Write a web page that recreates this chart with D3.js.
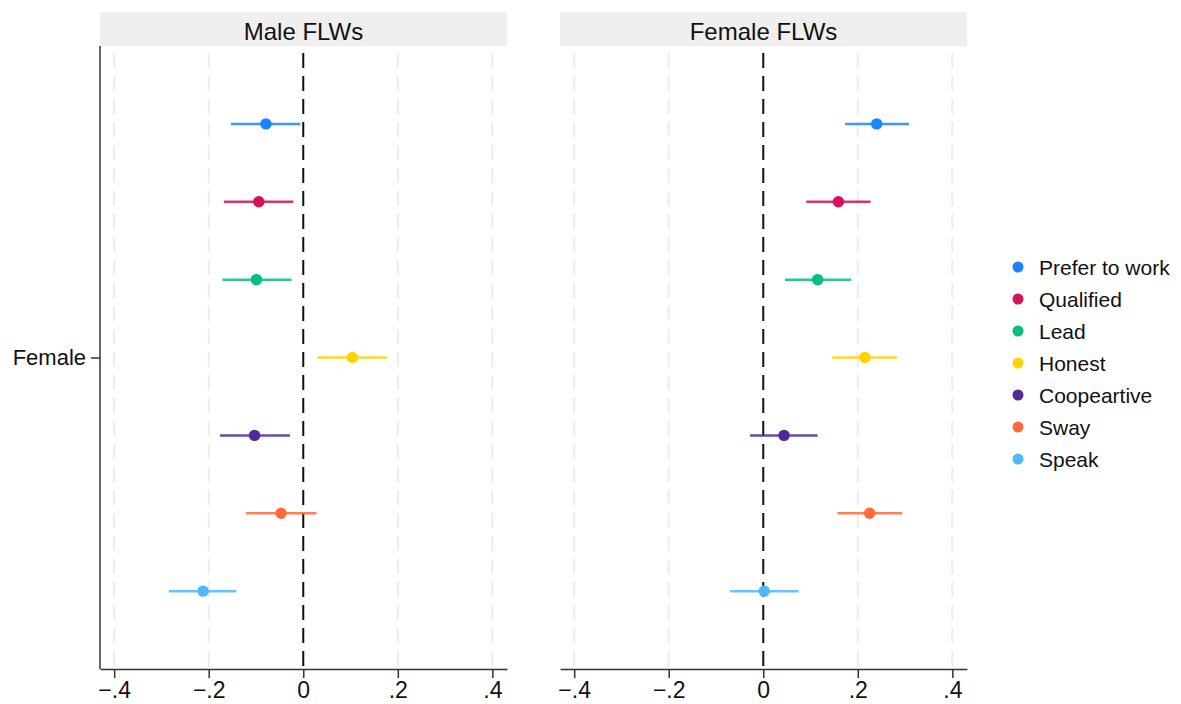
<!DOCTYPE html>
<html><head><meta charset="utf-8">
<script src="https://cdn.jsdelivr.net/npm/d3@7"></script>
<style>body{margin:0;background:#fff;} svg{display:block;font-family:"Liberation Sans",Arial,sans-serif;}</style>
</head><body><svg id="c" width="1181" height="704"></svg>
<script>
const panels = ["Male FLWs", "Female FLWs"];
const categories = ["Prefer to work", "Qualified", "Lead", "Honest", "Coopeartive", "Sway", "Speak"];
const colors = ["#1a85ff", "#d41159", "#00bf7f", "#ffd200", "#4f2a98", "#ff6a3b", "#4db8ff"];
const maleEst = [-0.079, -0.094, -0.099, 0.104, -0.103, -0.047, -0.212];
const maleLo  = [-0.153, -0.168, -0.171, 0.030, -0.176, -0.121, -0.284];
const maleHi  = [-0.006, -0.021, -0.025, 0.177, -0.028, 0.028, -0.142];
const femEst = [0.240, 0.159, 0.115, 0.215, 0.044, 0.225, 0.002];
const femLo  = [0.173, 0.091, 0.046, 0.146, -0.028, 0.157, -0.070];
const femHi  = [0.308, 0.227, 0.186, 0.283, 0.115, 0.294, 0.075];
const xTicks = [-0.4, -0.2, 0, 0.2, 0.4];
const yLabel = "Female";

(function () {
const svg = d3.select("#c");
const plotTop = 46, plotBottom = 669, stripTop = 12;
const panelX = [[100, 507], [560, 967]];
const xDomain = [-0.43, 0.431];
const y = d3.scaleLinear().domain([0, categories.length + 1]).range([plotTop, plotBottom]);
const fmt = d => d === 0 ? "0" : d3.format(".1f")(d).replace("0.", ".");
const data = [
  categories.map((c, i) => ({c, i, est: maleEst[i], lo: maleLo[i], hi: maleHi[i]})),
  categories.map((c, i) => ({c, i, est: femEst[i], lo: femLo[i], hi: femHi[i]}))
];

panels.forEach((title, p) => {
  const [x0, x1] = panelX[p];
  const x = d3.scaleLinear().domain(xDomain).range([x0, x1]);
  const g = svg.append("g");
  g.append("rect").attr("x", x0).attr("y", stripTop).attr("width", x1 - x0).attr("height", plotTop - stripTop).attr("fill", "#efefef");
  g.append("text").attr("x", (x0 + x1) / 2).attr("y", plotTop - 6).attr("text-anchor", "middle")
    .attr("font-size", 24).attr("fill", "#111").text(title);
  g.selectAll(".grid").data(xTicks.filter(t => t !== 0)).join("line")
    .attr("x1", d => x(d)).attr("x2", d => x(d)).attr("y1", plotTop).attr("y2", plotBottom)
    .attr("stroke", "#ececec").attr("stroke-width", 2).attr("stroke-dasharray", "15,8").attr("stroke-dashoffset", -7);
  g.append("line").attr("x1", x(0)).attr("x2", x(0)).attr("y1", plotTop).attr("y2", plotBottom)
    .attr("stroke", "#111").attr("stroke-width", 2).attr("stroke-dasharray", "15,8").attr("stroke-dashoffset", -7);
  const ax = g.append("g").attr("transform", `translate(0,${plotBottom})`)
    .call(d3.axisBottom(x).tickValues(xTicks).tickFormat(fmt).tickSize(9).tickSizeOuter(0).tickPadding(4));
  ax.select(".domain").attr("stroke", "#333").attr("stroke-width", 1.5);
  ax.selectAll(".tick line").attr("stroke", "#333").attr("stroke-width", 1.5);
  ax.selectAll("text").attr("font-size", 23).attr("fill", "#111").attr("font-family", "Liberation Sans, Arial, sans-serif");
  if (p === 0) {
    const ay = g.append("g").attr("transform", `translate(${x0},0)`)
      .call(d3.axisLeft(y).tickValues([(categories.length + 1) / 2]).tickFormat(() => yLabel).tickSize(9).tickSizeOuter(0).tickPadding(5));
    ay.select(".domain").attr("stroke", "#333").attr("stroke-width", 1.5).attr("d", `M0,${plotTop}V${plotBottom}`);
    ay.selectAll(".tick line").attr("stroke", "#333").attr("stroke-width", 1.5);
    ay.selectAll("text").attr("font-size", 22).attr("fill", "#111").attr("font-family", "Liberation Sans, Arial, sans-serif");
  }
  g.selectAll(".ci").data(data[p]).join("line")
    .attr("x1", d => x(d.lo)).attr("x2", d => x(d.hi))
    .attr("y1", d => y(d.i + 1)).attr("y2", d => y(d.i + 1))
    .attr("stroke", d => colors[d.i]).attr("stroke-width", 2.5).attr("stroke-opacity", 0.85);
  g.selectAll(".pt").data(data[p]).join("circle")
    .attr("cx", d => x(d.est)).attr("cy", d => y(d.i + 1)).attr("r", 5.7)
    .attr("fill", d => colors[d.i]);
});

const lg = svg.append("g").attr("transform", "translate(1018,267)");
const li = lg.selectAll("g").data(categories).join("g").attr("transform", (d, i) => `translate(0,${i * 32})`);
li.append("circle").attr("r", 5.5).attr("fill", (d, i) => colors[i]);
li.append("text").attr("x", 21).attr("dy", "0.36em").attr("font-size", 21).attr("fill", "#111").text(d => d);
})();
</script></body></html>
